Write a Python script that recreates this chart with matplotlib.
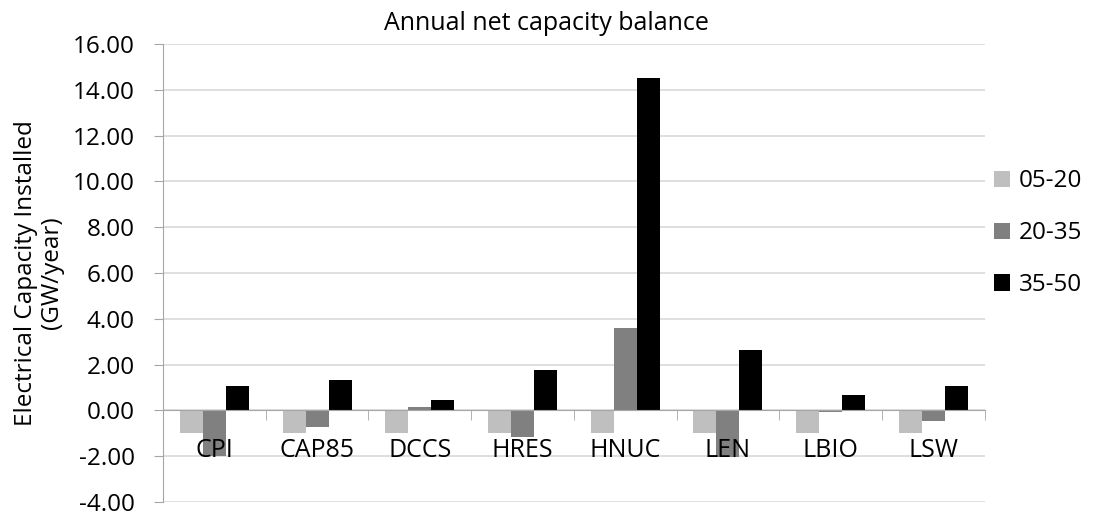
import numpy as np
import matplotlib
matplotlib.use("Agg")
import matplotlib.pyplot as plt
from matplotlib.ticker import FormatStrFormatter, FixedLocator

categories = ["CPI", "CAP85", "DCCS", "HRES", "HNUC", "LEN", "LBIO", "LSW"]
series     = ["05-20", "20-35", "35-50"]
v_05_20 = [-0.97, -0.97, -0.97, -0.97, -0.97, -0.97, -0.97, -0.97]
v_20_35 = [-1.98, -0.73, 0.15, -1.16, 3.60, -2.02, -0.05, -0.46]
v_35_50 = [1.07, 1.33, 0.44, 1.76, 14.53, 2.65, 0.69, 1.08]
colors  = ["#bfbfbf", "#808080", "#000000"]

plt.rcParams["font.family"] = ["Open Sans", "DejaVu Sans"]

fig = plt.figure(figsize=(10.94, 5.15), dpi=100)
ax = fig.add_axes([0.149, 0.0252, 0.751, 0.8894])

x = np.arange(len(categories))
w = 0.224
for i, (vals, lab, col) in enumerate(zip([v_05_20, v_20_35, v_35_50], series, colors)):
    ax.bar(x + (i - 1) * w, vals, w, color=col, label=lab, zorder=2)

ax.set_xlim(-0.5, len(categories) - 0.5)
ax.set_ylim(-4, 16)
ax.set_yticks(np.arange(-4, 16.1, 2))
ax.yaxis.set_major_formatter(FormatStrFormatter("%.2f"))
ax.yaxis.grid(True, color="#d9d9d9", linewidth=1.2)
# grid under the bars, category labels over them
ax.yaxis.set_zorder(0.5)
ax.xaxis.set_zorder(3)

for s in ["top", "right"]:
    ax.spines[s].set_visible(False)
ax.spines["left"].set_color("#a6a6a6")
ax.spines["bottom"].set_color("#a6a6a6")
ax.spines["bottom"].set_position(("data", 0))
ax.spines["bottom"].set_zorder(2.6)

ax.set_xticks(x)
ax.set_xticklabels(categories, fontsize=18)
ax.tick_params(axis="x", which="major", length=0, pad=20)
ax.xaxis.set_minor_locator(FixedLocator(np.arange(-0.5, len(categories), 1.0)))
ax.tick_params(axis="x", which="minor", length=7, color="#a6a6a6", direction="out")
ax.tick_params(axis="y", length=6.5, color="#a6a6a6", labelsize=17.5, pad=14)

ax.set_ylabel("Electrical Capacity Installed\n(GW/year)", fontsize=17.5,
              linespacing=1.1)
ax.yaxis.set_label_coords(-0.121, 0.5)

fig.text(546 / 1094, 1 - 24 / 515, "Annual net capacity balance", fontsize=18,
         ha="center", va="center")

ax.legend(loc="center left", bbox_to_anchor=(0.985, 0.587), frameon=False,
          fontsize=17.5, handlelength=0.65, handleheight=0.65, labelspacing=1.15,
          handletextpad=0.35)

fig.savefig("out.png", dpi=100)
